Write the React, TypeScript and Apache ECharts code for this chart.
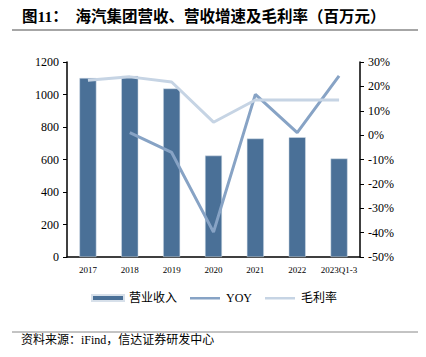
import React, { useEffect, useRef } from "react";
import * as echarts from "echarts";

const categories = ["2017", "2018", "2019", "2020", "2021", "2022", "2023Q1-3"];
const revenue = [1102, 1114, 1037, 624, 729, 737, 606];
const yoy = [null, 1.0, -7.1, -39.8, 16.7, 1.0, 24.3];
const grossMargin = [22.5, 23.9, 21.8, 5.3, 14.4, 14.4, 14.4];

const titleText = "图11：  海汽集团营收、营收增速及毛利率（百万元）";
const sourceText = "资料来源：iFind，信达证券研发中心";

export default function App() {
  const ref = useRef<HTMLDivElement>(null);
  useEffect(() => {
    if (!ref.current) return;
    const chart = echarts.init(ref.current, null, { renderer: "svg" });
    const serif = "'Liberation Serif', 'Times New Roman', serif";
    const cjk = "'Liberation Serif', 'Noto Sans CJK SC', serif";
    const lineIcon = "path://M0,0 M32,6 M1,2 L31,2 L31,4.5 L1,4.5 Z";
    chart.setOption({
      animation: false,
      backgroundColor: "#ffffff",
      grid: { left: 67, right: 66, top: 62, bottom: 100, containLabel: false },
      legend: {
        top: 292,
        left: 91,
        padding: 0,
        itemWidth: 32,
        itemHeight: 6,
        itemGap: 12,
        textStyle: { fontFamily: cjk, fontSize: 12, color: "#000" },
        data: [
          { name: "营业收入", icon: "rect" },
          { name: "YOY", icon: lineIcon },
          { name: "毛利率", icon: lineIcon },
        ],
      },
      xAxis: {
        type: "category",
        data: categories,
        axisLine: { lineStyle: { color: "#000", width: 1.5 } },
        axisTick: { show: false },
        axisLabel: { fontFamily: serif, fontSize: 9, color: "#000", margin: 8, interval: 0 },
      },
      yAxis: [
        {
          type: "value",
          min: 0,
          max: 1200,
          interval: 200,
          axisLine: { show: true, lineStyle: { color: "#000", width: 1.5 } },
          axisTick: { show: true, inside: false, length: 4, lineStyle: { color: "#000" } },
          axisLabel: { fontFamily: serif, fontSize: 12, color: "#000", margin: 8, formatter: (v: number) => String(v) },
          splitLine: { show: false },
        },
        {
          type: "value",
          min: -50,
          max: 30,
          interval: 10,
          position: "right",
          axisLine: { show: true, lineStyle: { color: "#000", width: 1.5 } },
          axisTick: { show: true, inside: false, length: 4, lineStyle: { color: "#000" } },
          axisLabel: { fontFamily: serif, fontSize: 12, color: "#000", margin: 8, formatter: "{value}%" },
          splitLine: { show: false },
        },
      ],
      series: [
        {
          name: "营业收入",
          type: "bar",
          data: revenue,
          barWidth: 17,
          itemStyle: { color: "#4a7097", borderColor: "#d7e0ea", borderWidth: 0.5 },
        },
        {
          name: "YOY",
          type: "line",
          yAxisIndex: 1,
          data: yoy,
          symbol: "none",
          lineStyle: { color: "#87a3c5", width: 3 },
          itemStyle: { color: "#87a3c5" },
        },
        {
          name: "毛利率",
          type: "line",
          yAxisIndex: 1,
          data: grossMargin,
          symbol: "none",
          lineStyle: { color: "#c6d4e4", width: 3 },
          itemStyle: { color: "#c6d4e4" },
        },
      ],
      graphic: [
        {
          type: "text",
          left: 22,
          top: 9,
          style: {
            text: titleText,
            fontSize: 15.5,
            fontWeight: "bold",
            fontFamily: "'Liberation Serif', 'Noto Sans CJK SC', serif",
            fill: "#000",
          },
        },
        {
          type: "line",
          shape: { x1: 12, y1: 30, x2: 418, y2: 30 },
          style: { stroke: "#888", lineWidth: 1.5 },
        },
        {
          type: "line",
          shape: { x1: 12, y1: 332, x2: 418, y2: 332 },
          style: { stroke: "#888", lineWidth: 1 },
        },
        {
          type: "text",
          left: 21,
          top: 334,
          style: {
            text: sourceText,
            fontSize: 12,
            fontFamily: "'Liberation Serif', 'Noto Sans CJK SC', serif",
            fill: "#000",
          },
        },
      ],
    });
    return () => chart.dispose();
  }, []);
  return <div ref={ref} style={{ width: 426, height: 357, position: "fixed", left: 0, top: 0 }} />;
}
